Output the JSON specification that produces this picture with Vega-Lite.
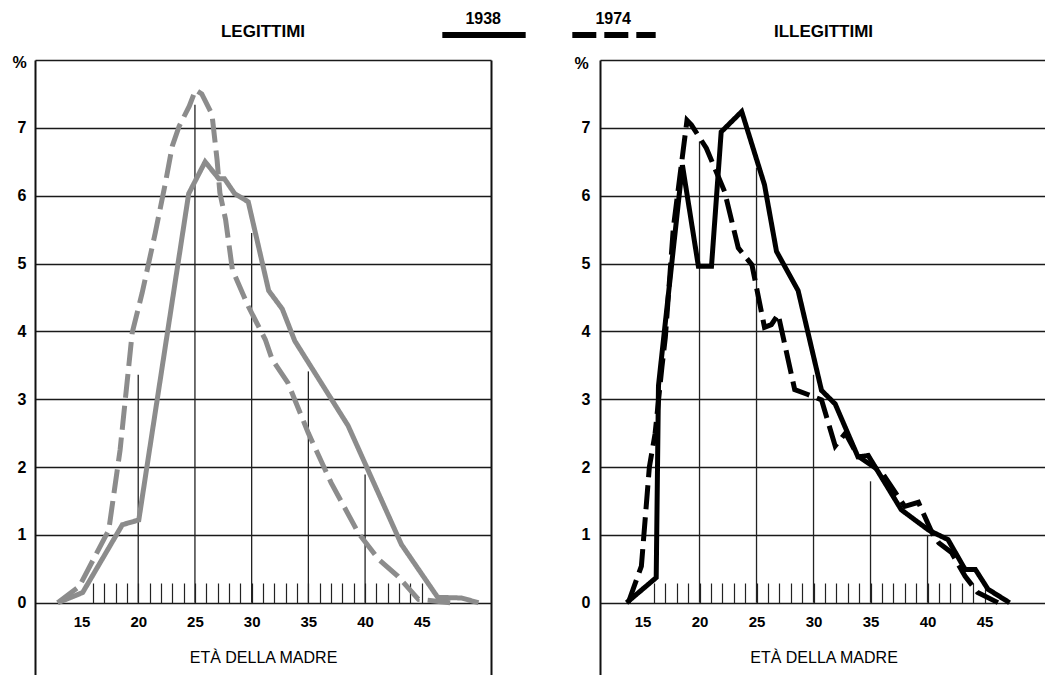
{
  "$schema": "https://vega.github.io/schema/vega-lite/v6.json",
  "background": "white",
  "padding": {"left": 11, "top": -10, "right": 0, "bottom": 0},
  "bounds": "flush",
  "spacing": 109,
  "config": {
    "view": {"stroke": null},
    "font": "Liberation Sans",
    "title": {"font": "Liberation Sans", "fontSize": 17, "fontWeight": "bold", "color": "black", "anchor": "middle", "offset": 11},
    "axis": {"labelFont": "Liberation Sans", "titleFont": "Liberation Sans", "labelColor": "black", "titleColor": "black", "labelOverlap": false}
  },
  "datasets": {
    "legit": [
      {"year": "1938", "age": 12.9, "pct": 0},
      {"year": "1938", "age": 15.1, "pct": 0.15},
      {"year": "1938", "age": 18.6, "pct": 1.15},
      {"year": "1938", "age": 20.05, "pct": 1.22},
      {"year": "1938", "age": 24.45, "pct": 6.03},
      {"year": "1938", "age": 25.9, "pct": 6.5},
      {"year": "1938", "age": 27.1, "pct": 6.25},
      {"year": "1938", "age": 27.6, "pct": 6.25},
      {"year": "1938", "age": 28.5, "pct": 6.03},
      {"year": "1938", "age": 29.7, "pct": 5.91},
      {"year": "1938", "age": 31.5, "pct": 4.6},
      {"year": "1938", "age": 32.7, "pct": 4.33},
      {"year": "1938", "age": 33.8, "pct": 3.86},
      {"year": "1938", "age": 38.5, "pct": 2.61},
      {"year": "1938", "age": 43.2, "pct": 0.86},
      {"year": "1938", "age": 46.4, "pct": 0.08},
      {"year": "1938", "age": 48.5, "pct": 0.07},
      {"year": "1938", "age": 50.0, "pct": 0},
      {"year": "1974", "age": 12.9, "pct": 0},
      {"year": "1974", "age": 14.8, "pct": 0.24},
      {"year": "1974", "age": 17.4, "pct": 1.07},
      {"year": "1974", "age": 18.4, "pct": 2.25},
      {"year": "1974", "age": 19.47, "pct": 3.98},
      {"year": "1974", "age": 20.35, "pct": 4.57},
      {"year": "1974", "age": 21.5, "pct": 5.45},
      {"year": "1974", "age": 22.4, "pct": 6.19},
      {"year": "1974", "age": 23.0, "pct": 6.73},
      {"year": "1974", "age": 23.6, "pct": 7.02},
      {"year": "1974", "age": 24.5, "pct": 7.32},
      {"year": "1974", "age": 25.05, "pct": 7.56},
      {"year": "1974", "age": 25.6, "pct": 7.5},
      {"year": "1974", "age": 26.5, "pct": 7.2},
      {"year": "1974", "age": 26.95, "pct": 6.53},
      {"year": "1974", "age": 27.2, "pct": 6.04},
      {"year": "1974", "age": 27.7, "pct": 5.65},
      {"year": "1974", "age": 28.3, "pct": 4.91},
      {"year": "1974", "age": 29.7, "pct": 4.37},
      {"year": "1974", "age": 31.2, "pct": 3.88},
      {"year": "1974", "age": 31.8, "pct": 3.59},
      {"year": "1974", "age": 33.2, "pct": 3.24},
      {"year": "1974", "age": 35.0, "pct": 2.5},
      {"year": "1974", "age": 37.0, "pct": 1.77},
      {"year": "1974", "age": 39.4, "pct": 1.03},
      {"year": "1974", "age": 41.2, "pct": 0.64},
      {"year": "1974", "age": 42.9, "pct": 0.39},
      {"year": "1974", "age": 44.7, "pct": 0.05},
      {"year": "1974", "age": 47.5, "pct": 0}
    ],
    "illegit": [
      {"year": "1938", "age": 13.6, "pct": 0},
      {"year": "1938", "age": 16.2, "pct": 0.37},
      {"year": "1938", "age": 16.4, "pct": 3.2},
      {"year": "1938", "age": 18.5, "pct": 6.45},
      {"year": "1938", "age": 19.9, "pct": 4.96},
      {"year": "1938", "age": 21.05, "pct": 4.96},
      {"year": "1938", "age": 21.9, "pct": 6.94},
      {"year": "1938", "age": 23.7, "pct": 7.24},
      {"year": "1938", "age": 25.7, "pct": 6.16},
      {"year": "1938", "age": 26.75, "pct": 5.18},
      {"year": "1938", "age": 28.65, "pct": 4.6},
      {"year": "1938", "age": 30.7, "pct": 3.13},
      {"year": "1938", "age": 31.9, "pct": 2.93},
      {"year": "1938", "age": 33.9, "pct": 2.15},
      {"year": "1938", "age": 34.8, "pct": 2.17},
      {"year": "1938", "age": 37.7, "pct": 1.37},
      {"year": "1938", "age": 40.1, "pct": 1.07},
      {"year": "1938", "age": 41.8, "pct": 0.93},
      {"year": "1938", "age": 43.3, "pct": 0.49},
      {"year": "1938", "age": 44.2, "pct": 0.49},
      {"year": "1938", "age": 45.3, "pct": 0.2},
      {"year": "1938", "age": 47.2, "pct": 0},
      {"year": "1974", "age": 13.75, "pct": 0},
      {"year": "1974", "age": 14.9, "pct": 0.54},
      {"year": "1974", "age": 15.6, "pct": 2.0},
      {"year": "1974", "age": 16.1, "pct": 2.49},
      {"year": "1974", "age": 16.7, "pct": 3.47},
      {"year": "1974", "age": 17.0, "pct": 3.91},
      {"year": "1974", "age": 17.7, "pct": 5.52},
      {"year": "1974", "age": 18.9, "pct": 7.11},
      {"year": "1974", "age": 19.3, "pct": 7.04},
      {"year": "1974", "age": 20.6, "pct": 6.7},
      {"year": "1974", "age": 22.2, "pct": 6.06},
      {"year": "1974", "age": 23.4, "pct": 5.23},
      {"year": "1974", "age": 24.6, "pct": 4.98},
      {"year": "1974", "age": 25.7, "pct": 4.06},
      {"year": "1974", "age": 26.3, "pct": 4.1},
      {"year": "1974", "age": 26.9, "pct": 4.25},
      {"year": "1974", "age": 28.35, "pct": 3.14},
      {"year": "1974", "age": 29.5, "pct": 3.07},
      {"year": "1974", "age": 30.7, "pct": 2.99},
      {"year": "1974", "age": 31.9, "pct": 2.31},
      {"year": "1974", "age": 32.8, "pct": 2.5},
      {"year": "1974", "age": 33.9, "pct": 2.16},
      {"year": "1974", "age": 36.0, "pct": 1.92},
      {"year": "1974", "age": 38.0, "pct": 1.42},
      {"year": "1974", "age": 39.2, "pct": 1.48},
      {"year": "1974", "age": 40.4, "pct": 1.03},
      {"year": "1974", "age": 41.0, "pct": 0.88},
      {"year": "1974", "age": 42.1, "pct": 0.74},
      {"year": "1974", "age": 43.3, "pct": 0.39},
      {"year": "1974", "age": 44.4, "pct": 0.15},
      {"year": "1974", "age": 46.2, "pct": 0}
    ],
    "gridL": [
      {"age": 20, "top": 3.36},
      {"age": 25, "top": 7.34},
      {"age": 30, "top": 5.45},
      {"age": 35, "top": 3.41},
      {"age": 40, "top": 1.89}
    ],
    "gridR": [
      {"age": 20, "top": 6.8},
      {"age": 25, "top": 6.41},
      {"age": 30, "top": 3.36},
      {"age": 35, "top": 1.79},
      {"age": 40, "top": 1.0}
    ]
  },
  "hconcat": [
    {
      "width": 456,
      "height": 615,
      "title": {"text": "LEGITTIMI"},
      "layer": [
        {
          "data": {"name": "gridL"},
          "mark": {"type": "rule", "color": "#222222", "strokeWidth": 1.3},
          "encoding": {
            "x": {
              "field": "age", "type": "quantitative",
              "scale": {"domain": [10.9, 51.1], "nice": false, "zero": false},
              "axis": {
                "values": [15,16,17,18,19,20,21,22,23,24,25,26,27,28,29,30,31,32,33,34,35,36,37,38,39,40,41,42,43,44,45,51.1],
                "tickCount": 100, "format": "d",
                "labelExpr": "datum.value % 5 === 0 && datum.value <= 45 ? datum.label : ''",
                "labelFontSize": 15, "labelFontWeight": "bold", "labelPadding": 31.5,
                "labelFlush": false,
                "ticks": true, "tickSize": -20, "tickColor": "#222222", "tickWidth": 1.2,
                "tickOpacity": {"condition": {"test": "datum.value === 15 || datum.value > 50", "value": 0}, "value": 1},
                "grid": true, "gridColor": "#111111", "gridWidth": 2,
                "gridOpacity": {"condition": {"test": "datum.value > 50", "value": 1}, "value": 0},
                "domain": false, "offset": -72,
                "title": "ETÀ DELLA MADRE", "titleFontSize": 16, "titleFontWeight": "normal", "titlePadding": 20
              }
            },
            "y": {
              "field": "top", "type": "quantitative",
              "scale": {"domain": [-1.065, 8], "nice": false, "zero": false},
              "axis": {
                "values": [0,1,2,3,4,5,6,7,8], "format": "d", "tickCount": 100,
                "labelExpr": "datum.value < 8 ? datum.label : ''",
                "labelFontSize": 16, "labelFontWeight": "bold", "labelPadding": 9,
                "ticks": false, "domain": true, "domainColor": "#111111", "domainWidth": 2,
                "grid": true, "gridColor": "#1a1a1a", "gridWidth": 1.4,
                "title": "%", "titleAngle": 0, "titleFontSize": 16, "titleFontWeight": "bold",
                "titleAlign": "center", "titleBaseline": "middle", "titleX": -16, "titleY": 2
              }
            },
            "y2": {"datum": 0}
          }
        },
        {
          "data": {"name": "legit"},
          "mark": {"type": "line", "color": "#8c8c8c", "strokeWidth": 5},
          "encoding": {
            "x": {"field": "age", "type": "quantitative"},
            "y": {"field": "pct", "type": "quantitative"},
            "strokeDash": {
              "field": "year", "type": "nominal",
              "scale": {"domain": ["1938", "1974"], "range": [[1, 0], [24, 8]]},
              "legend": {
                "title": null, "orient": "none", "legendX": 404, "legendY": -70, "direction": "horizontal",
                "padding": 0, "symbolType": "stroke", "symbolSize": 6950, "symbolStrokeWidth": 6,
                "symbolStrokeColor": "black",
                "labelFont": "Liberation Sans", "labelFontSize": 16, "labelFontWeight": "bold", "labelColor": "black",
                "labelAlign": "right", "labelOffset": -28, "labelBaseline": "bottom", "columnPadding": 22,
                "encode": {
                  "labels": {"update": {"dy": {"value": -8}}},
                  "symbols": {"update": {"stroke": {"value": "black"}}}
                }
              }
            }
          }
        }
      ]
    },
    {
      "width": 447,
      "height": 615,
      "title": {"text": "ILLEGITTIMI"},
      "layer": [
        {
          "data": {"name": "gridR"},
          "mark": {"type": "rule", "color": "#222222", "strokeWidth": 1.3},
          "encoding": {
            "x": {
              "field": "age", "type": "quantitative",
              "scale": {"domain": [11.27, 50.48], "nice": false, "zero": false},
              "axis": {
                "values": [15,16,17,18,19,20,21,22,23,24,25,26,27,28,29,30,31,32,33,34,35,36,37,38,39,40,41,42,43,44,45],
                "tickCount": 100, "format": "d",
                "labelExpr": "datum.value % 5 === 0 && datum.value <= 45 ? datum.label : ''",
                "labelFontSize": 15, "labelFontWeight": "bold", "labelPadding": 31.5,
                "labelFlush": false,
                "ticks": true, "tickSize": -20, "tickColor": "#222222", "tickWidth": 1.2,
                "tickOpacity": {"condition": {"test": "datum.value === 15", "value": 0}, "value": 1},
                "grid": false, "domain": false, "offset": -72,
                "title": "ETÀ DELLA MADRE", "titleFontSize": 16, "titleFontWeight": "normal", "titlePadding": 20
              }
            },
            "y": {
              "field": "top", "type": "quantitative",
              "scale": {"domain": [-1.065, 8], "nice": false, "zero": false},
              "axis": {
                "values": [0,1,2,3,4,5,6,7,8], "format": "d", "tickCount": 100,
                "labelExpr": "datum.value < 8 ? datum.label : ''",
                "labelFontSize": 16, "labelFontWeight": "bold", "labelPadding": 10,
                "ticks": false, "domain": true, "domainColor": "#111111", "domainWidth": 2,
                "grid": true, "gridColor": "#1a1a1a", "gridWidth": 1.4,
                "title": "%", "titleAngle": 0, "titleFontSize": 16, "titleFontWeight": "bold",
                "titleAlign": "center", "titleBaseline": "middle", "titleX": -19, "titleY": 3
              }
            },
            "y2": {"datum": 0}
          }
        },
        {
          "data": {"name": "illegit"},
          "mark": {"type": "line", "color": "black", "strokeWidth": 5},
          "encoding": {
            "x": {"field": "age", "type": "quantitative"},
            "y": {"field": "pct", "type": "quantitative"},
            "strokeDash": {"field": "year", "type": "nominal"}
          }
        }
      ]
    }
  ],
  "resolve": {"scale": {"strokeDash": "shared"}, "legend": {"strokeDash": "shared"}}
}
